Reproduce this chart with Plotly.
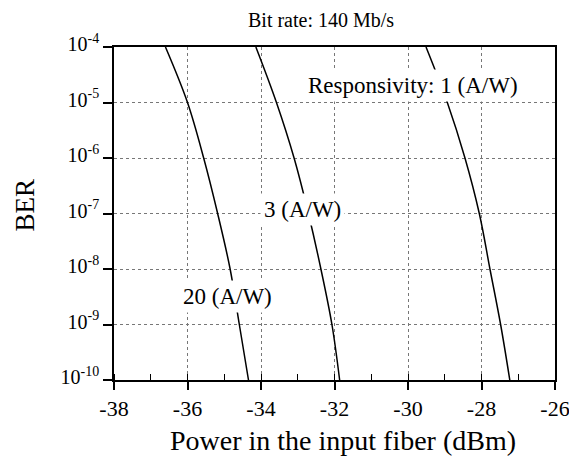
import plotly.graph_objects as go

# BER levels (shared by all curves)
ber = [1e-4, 1e-5, 1e-6, 1e-7, 1e-8, 1e-9, 1e-10]

# Received power (dBm) for each responsivity
p_20 = [-36.60, -36.00, -35.56, -35.18, -34.84, -34.59, -34.34]
p_3 = [-34.14, -33.58, -33.10, -32.71, -32.37, -32.07, -31.86]
p_1 = [-29.51, -28.93, -28.45, -28.06, -27.77, -27.48, -27.23]

x_ticks = [-38, -36, -34, -32, -30, -28, -26]
x_ticktext = ["-38", "-36", "-34", "-32", "-30", "-28", "-26"]
y_ticks = [1e-4, 1e-5, 1e-6, 1e-7, 1e-8, 1e-9, 1e-10]
y_ticktext = ["10<sup>-4</sup>", "10<sup>-5</sup>", "10<sup>-6</sup>", "10<sup>-7</sup>",
              "10<sup>-8</sup>", "10<sup>-9</sup>", "10<sup>-10</sup>"]

FONT = "Liberation Serif"

fig = go.Figure()
for p in (p_20, p_3, p_1):
    fig.add_trace(go.Scatter(x=p, y=ber, mode="lines",
                             line=dict(color="black", width=1.5, shape="spline", smoothing=1.0),
                             showlegend=False, hoverinfo="skip"))

# label positions: x in dBm, y as log10(BER) (annotation coords on a log axis)
labels = [
    ("Responsivity: 1 (A/W)", -29.86, -4.685),
    ("3 (A/W)", -32.86, -6.92),
    ("20 (A/W)", -34.90, -8.50),
]
for txt, lx, ly in labels:
    fig.add_annotation(x=lx, y=ly, yref="y", xref="x", text=txt, showarrow=False,
                       xanchor="center", yanchor="middle",
                       bgcolor="white", font=dict(family=FONT, size=23, color="black"),
                       borderpad=3)

fig.add_annotation(text="Bit rate: 140 Mb/s", xref="paper", yref="paper", x=0.469, y=1.081,
                   xanchor="center", yanchor="middle",
                   showarrow=False, font=dict(family=FONT, size=20, color="black"))
fig.add_annotation(text="Power in the input fiber (dBm)", xref="paper", yref="paper", x=0.519, y=-0.181,
                   xanchor="center", yanchor="middle",
                   showarrow=False, font=dict(family=FONT, size=28, color="black"))
fig.add_annotation(text="BER", xref="paper", yref="paper", x=-0.202, y=0.527, textangle=-90,
                   xanchor="center", yanchor="middle",
                   showarrow=False, font=dict(family=FONT, size=27, color="black"))

fig.update_xaxes(range=[-38, -26], tickvals=x_ticks, ticktext=x_ticktext,
                 ticks="outside", ticklen=8, tickwidth=1.5, tickcolor="black",
                 showline=True, linecolor="black", linewidth=1.5, mirror=True,
                 showgrid=True, gridcolor="#777777", griddash="dot", gridwidth=1,
                 zeroline=False, ticklabeloverflow="allow", automargin=False,
                 minor=dict(ticks="inside", dtick=1, ticklen=6, tickcolor="black", tickwidth=1, showgrid=False),
                 tickfont=dict(family=FONT, size=22, color="black"))
fig.update_yaxes(type="log", range=[-10, -4], tickvals=y_ticks, ticktext=y_ticktext,
                 ticks="outside", ticklen=9, tickwidth=1.5, tickcolor="black",
                 showline=True, linecolor="black", linewidth=1.5, mirror=True,
                 showgrid=True, gridcolor="#777777", griddash="dot", gridwidth=1,
                 zeroline=False, ticklabeloverflow="allow", ticklabelshift=-3, automargin=False,
                 tickfont=dict(family=FONT, size=20, color="black"))

fig.update_layout(width=569, height=457, margin=dict(l=114, r=14, t=47, b=77),
                  plot_bgcolor="white", paper_bgcolor="white")

fig.write_html("out.html")
